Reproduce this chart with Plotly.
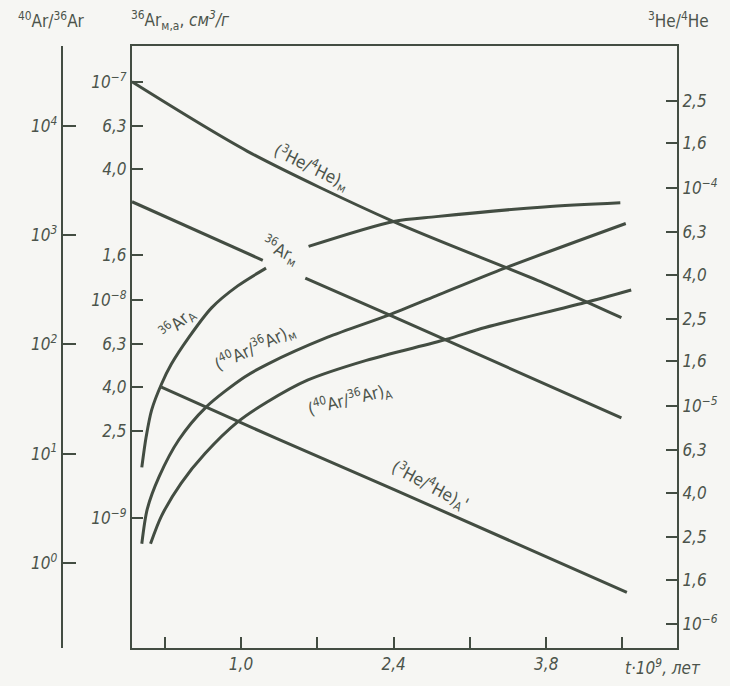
import plotly.graph_objects as go

# ---- data ----
# time, 10^9 years
he_m_t = [0.0, 1.06, 2.40, 3.78, 4.49]
he_m_v = [3.06e-4, 1.47e-4, 7.0e-5, 3.66e-5, 2.54e-5]

he_a_t = [0.27, 1.33, 2.40, 4.54]
he_a_v = [1.22e-5, 7.08e-6, 4.15e-6, 1.40e-6]

ar36_m_t = [0.0, 1.20, None, 1.59, 2.36, 4.49]
ar36_m_v = [2.82e-8, 1.52e-8, None, 1.26e-8, 8.55e-9, 2.88e-9]

ar36_a_t = [0.09, 0.13, 0.18, 0.27, 0.36, 0.52, 0.73, 0.97, 1.23, None,
            1.62, 2.40, 2.79, 3.78, 4.48]
ar36_a_v = [1.71e-9, 2.36e-9, 3.13e-9, 4.11e-9, 5.07e-9, 6.72e-9, 9.2e-9,
            1.16e-8, 1.40e-8, None, 1.76e-8, 2.29e-8, 2.41e-8, 2.67e-8, 2.79e-8]

r4036_m_t = [0.09, 0.14, 0.25, 0.43, 0.68, 1.03, 1.24, 1.79, 2.36, 2.79, 3.42, 4.53]
r4036_m_v = [1.49, 3.10, 6.18, 13.4, 26.7, 50.1, 65.8, 116, 187, 279, 501, 1285]

r4036_a_t = [0.17, 0.27, 0.45, 0.67, 0.97, 1.24, 1.61, 2.15, 2.88, 3.24, 4.15, 4.58]
r4036_a_v = [1.49, 2.67, 5.34, 10.0, 19.5, 29.7, 47.1, 71.6, 111, 143, 241, 316]

x_ticks = [0.3, 1.0, 1.7, 2.4, 3.1, 3.8, 4.5]
x_ticktext = ["", "1,0", "", "2,4", "", "3,8", ""]

ar36_ticks = [1e-9, 2.5e-9, 4e-9, 6.3e-9, 1e-8, 1.6e-8, 4e-8, 6.3e-8, 1e-7]
ar36_ticktext = ["10<sup>−9</sup>", "2,5", "4,0", "6,3", "10<sup>−8</sup>",
                 "1,6", "4,0", "6,3", "10<sup>−7</sup>"]

he_ticks = [1e-6, 1.6e-6, 2.5e-6, 4e-6, 6.3e-6, 1e-5, 1.6e-5, 2.5e-5, 4e-5,
            6.3e-5, 1e-4, 1.6e-4, 2.5e-4]
he_ticktext = ["10<sup>−6</sup>", "1,6", "2,5", "4,0", "6,3", "10<sup>−5</sup>",
               "1,6", "2,5", "4,0", "6,3", "10<sup>−4</sup>", "1,6", "2,5"]

ratio_ticks = [1, 10, 100, 1000, 10000]
ratio_ticktext = ["10<sup>0</sup>", "10<sup>1</sup>", "10<sup>2</sup>",
                  "10<sup>3</sup>", "10<sup>4</sup>"]

# ---- style ----
INK = "#434d42"
TXT = "#4c544b"
BG = "#f6f6f3"
FONT = "DejaVu Sans Condensed"


def ital(labels):
    return ["<i>%s</i>" % t if t else "" for t in labels]


fig = go.Figure()


def line(x, y, axis, smooth=False):
    fig.add_trace(go.Scatter(
        x=x, y=y, yaxis=axis, mode="lines",
        line=dict(color=INK, width=3, shape="spline" if smooth else "linear",
                  smoothing=0.8),
        connectgaps=False, showlegend=False, hoverinfo="skip"))


line(he_m_t, he_m_v, "y2", smooth=True)
line(he_a_t, he_a_v, "y2")
line(ar36_m_t, ar36_m_v, "y")
line(ar36_a_t, ar36_a_v, "y", smooth=True)
line(r4036_m_t, r4036_m_v, "y3", smooth=True)
line(r4036_a_t, r4036_a_v, "y3", smooth=True)

ML, MR, MT, MB = 40, 46, 46, 33
W, H = 730, 686
pw = W - ML - MR

tickfont = dict(family=FONT, size=17, color=TXT)
common = dict(ticks="inside", tickwidth=2, tickcolor=INK,
              showline=True, linecolor=INK, linewidth=2,
              showgrid=False, zeroline=False, tickfont=tickfont)

fig.update_layout(
    width=W, height=H,
    margin=dict(l=ML, r=MR, t=MT, b=MB),
    paper_bgcolor=BG, plot_bgcolor=BG,
    font=dict(family=FONT, color=TXT),
    xaxis=dict(domain=[(133 - ML) / pw, 1], range=[0, 5],
               tickvals=x_ticks, ticktext=ital(x_ticktext),
               ticklen=11, mirror=True, **common),
    yaxis=dict(type="log", range=[-9.595, -6.836], side="left",
               tickvals=ar36_ticks, ticktext=ital(ar36_ticktext),
               ticklen=11, **common),
    yaxis2=dict(type="log", range=[-6.109, -3.35], side="right",
                overlaying="y", anchor="x",
                tickvals=he_ticks, ticktext=ital(he_ticktext),
                ticklen=11, **common),
    yaxis3=dict(type="log", range=[-0.782, 4.736], side="left",
                overlaying="y", anchor="free", position=(62 - ML) / pw,
                tickvals=ratio_ticks, ticktext=ital(ratio_ticktext),
                ticklen=13, **common),
)


def px_to_paper(px, py):
    return (px - ML) / pw, (H - MB - py) / (H - MT - MB)


labfont = dict(family=FONT, size=17, color=TXT)

# curve labels anchored in data coords (x: t, y: log10 of 36Ar axis)
labels = [
    ("(<sup>3</sup>He/<sup>4</sup>He)<sub>м</sub>", 1.65, -7.391, 26),
    ("<sup>36</sup>Ar<sub>м</sub>", 1.36, -7.773, 27),
    ("<sup>36</sup>Ar<sub>A</sub>", 0.42, -8.110, -42),
    ("(<sup>40</sup>Ar/<sup>36</sup>Ar)<sub>м</sub>", 1.13, -8.220, -25),
    ("(<sup>40</sup>Ar/<sup>36</sup>Ar)<sub>A</sub>", 2.00, -8.455, -14),
    ("(<sup>3</sup>He/<sup>4</sup>He)<sub>A</sub>'", 2.73, -8.850, 28),
]
for text, x, y, ang in labels:
    fig.add_annotation(text=text, x=x, y=y, xref="x", yref="y",
                       xanchor="center", yanchor="middle",
                       showarrow=False, textangle=ang, font=labfont)

titles = [
    ("<sup>40</sup>Ar/<sup>36</sup>Ar", 52, 20),
    ("<sup>36</sup>Ar<sub>м,а</sub>, <i>см<sup>3</sup>/г</i>", 182, 20),
    ("<sup>3</sup>He/<sup>4</sup>He", 686, 20),
    ("<i>t·10<sup>9</sup>, лет</i>", 670, 672),
]
for text, px, py in titles:
    xp, yp = px_to_paper(px, py)
    fig.add_annotation(text=text, x=xp, y=yp, xref="paper", yref="paper",
                       xanchor="center", yanchor="middle",
                       showarrow=False, font=dict(family=FONT, size=17, color=TXT))

fig.write_html("out.html")
